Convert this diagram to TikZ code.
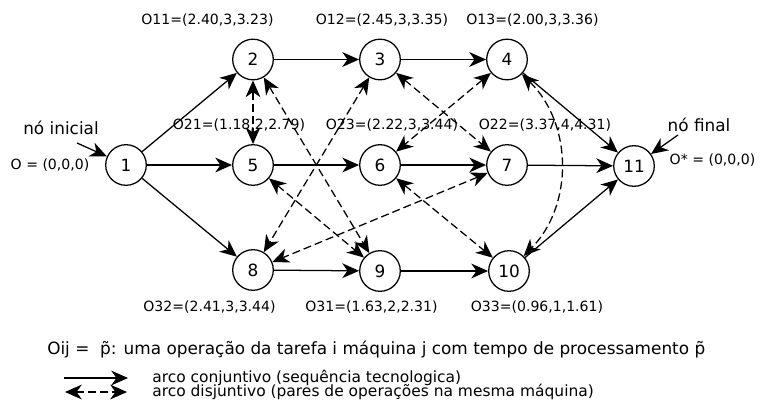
\documentclass[tikz,border=0pt]{standalone}
\usepackage{fontspec}
\setmainfont{DejaVu Sans}
\usetikzlibrary{arrows.meta}

\begin{document}
\begin{tikzpicture}[
    op/.style={draw,circle,line width=0.9pt,minimum size=1.015cm,inner sep=0pt,font=\fontsize{12}{14}\selectfont},
    lbl/.style={font=\fontsize{10}{12}\selectfont},
    conj/.style={line width=0.9pt,-{Stealth[length=4.2mm,width=3.7mm,inset=1.3mm]}},
    disj/.style={line width=0.9pt,dash pattern=on 2mm off 1mm,{Stealth[length=4.2mm,width=3.7mm,inset=1.3mm]}-{Stealth[length=4.2mm,width=3.7mm,inset=1.3mm]}}]
          \useasboundingbox (0,0) rectangle (19,-10.275);
          % operacoes
          \node[op] (n1) at (3.15,-4.125) {1};
          \node[op] (n2) at (6.325,-1.4875) {2};
          \node[op] (n3) at (9.5,-1.4875) {3};
          \node[op] (n4) at (12.675,-1.4875) {4};
          \node[op] (n5) at (6.325,-4.125) {5};
          \node[op] (n6) at (9.5,-4.125) {6};
          \node[op] (n7) at (12.675,-4.125) {7};
          \node[op] (n8) at (6.325,-6.75) {8};
          \node[op] (n9) at (9.5,-6.775) {9};
          \node[op] (n10) at (12.725,-6.775) {10};
          \node[op] (n11) at (15.85,-4.15) {11};
          % tempos
          \node[lbl] (o11) at (5.1875,-0.5) {O11=(2.40,3,3.23)};
          \node[lbl] (o12) at (9.55,-0.5) {O12=(2.45,3,3.35)};
          \node[lbl] (o13) at (13.3125,-0.5) {O13=(2.00,3,3.36)};
          \node[lbl] (o21) at (5.975,-3.125) {O21=(1.18,2,2.79)};
          \node[lbl] (o23) at (9.8,-3.125) {O23=(2.22,3,3.44)};
          \node[lbl] (o22) at (13.625,-3.125) {O22=(3.37,4,4.31)};
          \node[lbl] (o32) at (5.2375,-7.675) {O32=(2.41,3,3.44)};
          \node[lbl] (o31) at (9.2875,-7.675) {O31=(1.63,2,2.31)};
          \node[lbl] (o33) at (13.425,-7.675) {O33=(0.96,1,1.61)};
          % inicio e fim
          \node[font=\fontsize{12}{14}\selectfont] (ini) at (1.525,-3.2) {nó inicial};
          \node[lbl] (o0) at (1.25,-4.125) {O = (0,0,0)};
          \node[font=\fontsize{12}{14}\selectfont] (fin) at (17.475,-3.125) {nó final};
          \node[lbl] (oe) at (17.8125,-4.0) {O* = (0,0,0)};
          \coordinate (ini0) at (1.925,-3.575);
          \coordinate (fin0) at (16.95,-3.375);
          \draw[conj] (ini0) -- (n1);
          \draw[conj] (fin0) -- (n11);
          % arcos conjuntivos
          \draw[conj] (n1) -- (n2);
          \draw[conj] (n1) -- (n5);
          \draw[conj] (n1) -- (n8);
          \draw[conj] (n2) -- (n3);
          \draw[conj] (n3) -- (n4);
          \draw[conj] (n5) -- (n6);
          \draw[conj] (n6) -- (n7);
          \draw[conj] (n8) -- (n9);
          \draw[conj] (n9) -- (n10);
          \draw[conj] (n4) -- (n11);
          \draw[conj] (n7) -- (n11);
          \draw[conj] (n10) -- (n11);
          % arcos disjuntivos
          \draw[disj] (n2) -- (n5);
          \draw[disj] (n2) -- (n9);
          \draw[disj] (n5) -- (n9);
          \draw[disj] (n3) -- (n8);
          \draw[disj] (n3) -- (n7);
          \draw[disj] (n7) -- (n8);
          \draw[disj] (n4) -- (n6);
          \draw[disj] (n6) -- (n10);
          \draw[disj] (n4) to[bend left=45] (n10);
          % legenda
          \node[anchor=west,inner sep=0pt,font=\fontsize{12}{14}\selectfont] (leg) at (1.175,-8.75) {Oij = \ p̃: uma operação da tarefa i máquina j com tempo de processamento p̃};
          \coordinate (c1) at (1.6,-9.45);
          \coordinate (c2) at (3.2,-9.45);
          \coordinate (d1) at (1.625,-9.8);
          \coordinate (d2) at (3.175,-9.8);
          \draw[conj] (c1) -- (c2);
          \draw[disj] (d1) -- (d2);
          \node[anchor=west,inner sep=0pt,font=\fontsize{11}{12}\selectfont] (lc) at (3.8,-9.45) {arco conjuntivo (sequência tecnologica)};
          \node[anchor=west,inner sep=0pt,font=\fontsize{11}{12}\selectfont] (ld) at (3.8,-9.8) {arco disjuntivo (pares de operações na mesma máquina)};
        \end{tikzpicture}
\end{document}
